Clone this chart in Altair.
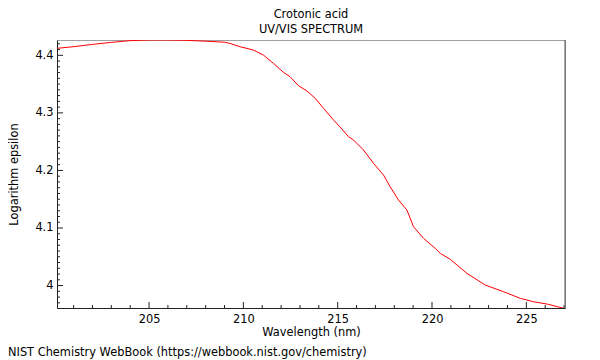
import altair as alt
import pandas as pd

# Spectrum
wavelength = [200.14, 201.0, 202.0, 203.0, 204.0, 205.0, 206.0, 207.0, 208.0, 209.0,
              209.3, 209.83, 210.53, 211.06, 211.59, 212.12, 212.48, 212.92, 213.37, 213.81,
              214.25, 214.78, 215.13, 215.57, 215.84, 216.37, 216.9, 217.43, 217.78, 218.22,
              218.67, 219.02, 219.55, 220.17, 220.44, 220.97, 221.85, 222.82, 223.8, 224.68,
              225.39, 226.11, 227.0]
log_eps = [4.4122, 4.415, 4.419, 4.4225, 4.4255, 4.4266, 4.4266, 4.426, 4.4245, 4.4228,
           4.4205, 4.4149, 4.4092, 4.4005, 4.3861, 4.3705, 4.3628, 4.3472, 4.338, 4.3253,
           4.3079, 4.2876, 4.2754, 4.2586, 4.2528, 4.2354, 4.2123, 4.192, 4.1717, 4.1486,
           4.1312, 4.1022, 4.082, 4.0647, 4.0559, 4.0455, 4.0212, 4.0009, 3.9892, 3.9778,
           3.9718, 3.9678, 3.9604]

# Axis ticks
x_major = [205, 210, 215, 220, 225]
x_minor = [v for v in range(201, 228) if v % 5 != 0]
y_major = [4.0, 4.1, 4.2, 4.3, 4.4]
y_minor = [round(397 / 100 + i / 100, 2) for i in range(0, 46) if (397 + i) % 10 != 0]

title_text = "Crotonic acid"
subtitle_text = "UV/VIS SPECTRUM"
x_title = "Wavelength (nm)"
y_title = "Logarithm epsilon"
credit = "NIST Chemistry WebBook (https://webbook.nist.gov/chemistry)"

W, H = 508, 268
FONT = "DejaVu Sans"
FS = 11.4
INK = "#222222"

xs = alt.Scale(domain=[200.12, 227.05], nice=False, zero=False)
ys = alt.Scale(domain=[3.961, 4.4266], nice=False, zero=False)

x_axis = alt.Axis(values=x_major, title=x_title, ticks=False, tickSize=0, grid=False,
                  labelPadding=5, domainColor=INK, labelFontSize=FS, titleFontSize=FS,
                  titleFontWeight="normal", titlePadding=2, labelColor="black",
                  titleColor="black", labelFlush=False, labelFont=FONT, titleFont=FONT)
y_axis = alt.Axis(values=y_major, format=".1~f", title=y_title, ticks=False, tickSize=0,
                  grid=False, labelPadding=4, domainColor=INK, labelFontSize=FS,
                  titleFontSize=FS, titleFontWeight="normal", titlePadding=15,
                  labelColor="black", titleColor="black", labelFlush=False,
                  labelFont=FONT, titleFont=FONT)

df = pd.DataFrame({"wavelength": wavelength, "log_eps": log_eps})

line = alt.Chart(df).mark_line(color="#ff0000", strokeWidth=1, clip=True).encode(
    x=alt.X("wavelength:Q", scale=xs, axis=x_axis),
    y=alt.Y("log_eps:Q", scale=ys, axis=y_axis),
)

def xticks(vals, length):
    return alt.Chart(pd.DataFrame({"wavelength": vals})).mark_rule(color=INK, strokeWidth=1).encode(
        x=alt.X("wavelength:Q", scale=xs, axis=x_axis),
        y=alt.value(H), y2=alt.value(H - length),
    )

def yticks(vals, length):
    return alt.Chart(pd.DataFrame({"log_eps": vals})).mark_rule(color=INK, strokeWidth=1).encode(
        y=alt.Y("log_eps:Q", scale=ys, axis=y_axis),
        x=alt.value(0), x2=alt.value(length),
    )

right_edge = alt.Chart(pd.DataFrame({"a": [0]})).mark_rule(color="#555555", strokeWidth=1).encode(
    x=alt.value(W), y=alt.value(0), y2=alt.value(H)
)

credit_text = alt.Chart(pd.DataFrame({"t": [credit]})).mark_text(
    align="left", baseline="middle", fontSize=FS, font=FONT, color="black"
).encode(x=alt.value(-49), y=alt.value(H + 45), text="t:N")

chart = alt.layer(
    line, xticks(x_major, 6), xticks(x_minor, 3), yticks(y_major, 6), yticks(y_minor, 3),
    right_edge, credit_text
).properties(
    width=W, height=H,
    title=alt.TitleParams(text=title_text, subtitle=subtitle_text, fontSize=FS,
                          fontWeight="normal", subtitleFontSize=FS, subtitleColor="black",
                          color="black", anchor="middle", offset=4, subtitlePadding=4,
                          font=FONT, subtitleFont=FONT),
    autosize=alt.AutoSizeParams(type="none"),
    padding={"left": 49, "top": 32, "right": 27, "bottom": 52},
).configure_view(stroke="#a0a0a0", strokeWidth=1)

chart.save("out.html", embed_options={"renderer": "svg", "actions": False})
